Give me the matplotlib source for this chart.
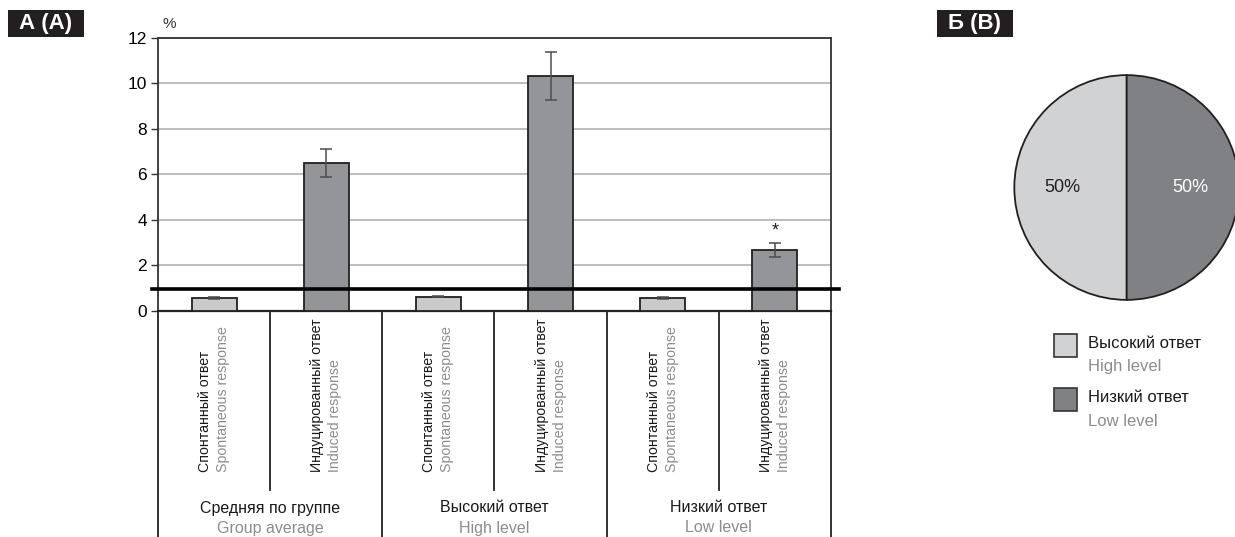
import matplotlib
matplotlib.use("Agg")
import matplotlib.pyplot as plt
from matplotlib.patches import Rectangle

plt.rcParams["font.family"] = ["Liberation Sans Narrow", "Liberation Sans", "DejaVu Sans"]

# --- данные панели А ---
groups_ru = ["Средняя по группе", "Высокий ответ", "Низкий ответ"]
groups_en = ["Group average", "High level", "Low level"]
resp_ru = ["Спонтанный ответ", "Индуцированный ответ"]
resp_en = ["Spontaneous response", "Induced response"]
values = [0.57, 6.49, 0.62, 10.33, 0.56, 2.66]
errors = [0.05, 0.63, 0.03, 1.05, 0.03, 0.30]
threshold = 0.95
star_bar = 5
yticks = [0, 2, 4, 6, 8, 10, 12]

# --- данные панели Б ---
pie_shares = [50, 50]
pie_ru = ["Высокий ответ", "Низкий ответ"]
pie_en = ["High level", "Low level"]

LIGHT, DARK = "#c9cacc", "#939598"
PIE_LIGHT, PIE_DARK = "#d1d2d4", "#808184"
EDGE = "#231f20"
GREY_TXT = "#8c8c8c"

W, H = 1235, 537
fig = plt.figure(figsize=(W / 100, H / 100), dpi=100)


def fx(px):
    return px / W


def fy(py):
    return 1 - py / H


# ---------- A: столбцы ----------
x0, x1, ytop, ybase = 158, 831, 37.7, 310.7
ax = fig.add_axes([fx(x0), fy(ybase), fx(x1 - x0), (ybase - ytop) / H])
xs = list(range(len(values)))
colors = [LIGHT if i % 2 == 0 else DARK for i in xs]
ax.bar(xs, values, width=0.4, color=colors, edgecolor=EDGE, linewidth=1.3, zorder=3)
ax.errorbar(xs, values, yerr=errors, fmt="none", ecolor="#4d4d4d", elinewidth=1.1,
            capsize=4, capthick=1.1, zorder=4)
ax.text(star_bar, values[star_bar] + errors[star_bar] + 0.15, "*", ha="center", va="bottom",
        fontsize=13, color=EDGE)
ax.plot([-0.009, 1.012], [threshold, threshold], transform=ax.get_yaxis_transform(),
        color="black", lw=2.6, clip_on=False, zorder=5)

ax.set_xlim(-0.5, len(values) - 0.5)
ax.set_ylim(0, 12)
ax.set_yticks(yticks)
ax.set_yticklabels([str(v) for v in yticks], family=["Liberation Sans", "DejaVu Sans"], fontsize=12.5)
ax.tick_params(axis="y", length=5, width=1, color="#333333", pad=3)
ax.set_xticks([])
ax.grid(axis="y", color="#bdbdbd", lw=1.4, zorder=0)
ax.set_axisbelow(True)
for side in ["left", "top", "right"]:
    ax.spines[side].set_color("#333333")
    ax.spines[side].set_linewidth(1.3)
ax.spines["bottom"].set_color("#222222")
ax.spines["bottom"].set_linewidth(1.6)
ax.text(0.006, 1.025, "%", transform=ax.transAxes, fontsize=11,
        family=["Liberation Sans", "DejaVu Sans"], color="#333333", ha="left", va="bottom")

# подписи категорий под осью
lab = fig.add_axes([fx(x0), 0, fx(x1 - x0), fy(ybase)])
lab.set_xlim(ax.get_xlim())
lab.set_ylim(H, ybase)
lab.axis("off")
for k in range(len(values) + 1):
    xb = k - 0.5
    end = H if k % 2 == 0 else 490
    lab.plot([xb, xb], [ybase, end], color="#222222", lw=1.3, clip_on=False)
for i in xs:
    lab.text(i - 0.08, 472, resp_ru[i % 2], rotation=90, ha="center", va="bottom",
             fontsize=10.2, color="#1a1a1a")
    lab.text(i + 0.08, 472, resp_en[i % 2], rotation=90, ha="center", va="bottom",
             fontsize=10.2, color=GREY_TXT)
for g in range(len(groups_ru)):
    xc = 2 * g + 0.5
    lab.text(xc, 508, groups_ru[g], ha="center", va="center", fontsize=11.5, color="#1a1a1a")
    lab.text(xc, 528, groups_en[g], ha="center", va="center", fontsize=11.5, color=GREY_TXT)

# ---------- Б: круговая ----------
cx, cy, r = 1126.7, 187.5, 113.5
pax = fig.add_axes([fx(cx - r), fy(cy + r), fx(2 * r), 2 * r / H])
wedges, _, autotexts = pax.pie(pie_shares, colors=[PIE_LIGHT, PIE_DARK], startangle=90,
                               counterclock=True, radius=1,
                               wedgeprops=dict(edgecolor=EDGE, linewidth=1.3),
                               autopct="%d%%", pctdistance=0.57,
                               textprops=dict(fontsize=13, family=["Liberation Sans", "DejaVu Sans"]))
autotexts[0].set_color("#231f20")
autotexts[1].set_color("white")
pax.set_xlim(-1.01, 1.01)
pax.set_ylim(-1.01, 1.01)
pax.set_aspect("auto")
pax.axis("off")

# легенда
for j, col in enumerate([PIE_LIGHT, PIE_DARK]):
    top = 334 + 54 * j
    fig.patches.append(Rectangle((fx(1054), fy(top + 23)), fx(23), 23 / H, facecolor=col,
                                 edgecolor="#333333", lw=1.2, transform=fig.transFigure))
    fig.text(fx(1088), fy(top + 10), pie_ru[j], fontsize=12, color="#1a1a1a", va="center")
    fig.text(fx(1088), fy(top + 33), pie_en[j], fontsize=12, color=GREY_TXT, va="center")

# заголовки панелей: чёрные плашки
for txt, bx in [("А (A)", 8), ("Б (B)", 937)]:
    fig.patches.append(Rectangle((fx(bx), fy(37)), fx(76), 27 / H, facecolor="#231f20",
                                 edgecolor="none", transform=fig.transFigure))
    fig.text(fx(bx + 38), fy(24), txt, fontsize=16, fontweight="bold", color="white",
             ha="center", va="center", family=["Liberation Sans", "DejaVu Sans"])

fig.savefig("out.png", dpi=100)
